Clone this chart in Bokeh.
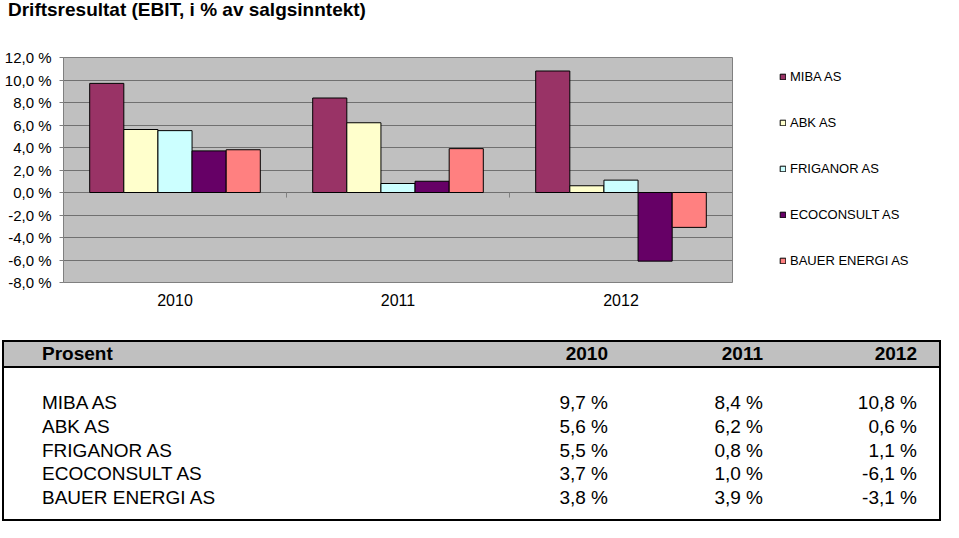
from bokeh.plotting import figure
from bokeh.models import (ColumnDataSource, FactorRange, Range1d, FixedTicker,
                          CustomJSTickFormatter, Legend, LegendItem, Div)
from bokeh.layouts import column, row
from bokeh.transform import dodge
from bokeh.embed import file_html
from bokeh.resources import INLINE

# ---------------- data ----------------
title_text = "Driftsresultat (EBIT, i % av salgsinntekt)"
years = ["2010", "2011", "2012"]
companies = ["MIBA AS", "ABK AS", "FRIGANOR AS", "ECOCONSULT AS", "BAUER ENERGI AS"]
miba = [9.7, 8.4, 10.8]
abk = [5.6, 6.2, 0.6]
friganor = [5.5, 0.8, 1.1]
ecoconsult = [3.7, 1.0, -6.1]
bauer = [3.8, 3.9, -3.1]
y_ticks = [-8, -6, -4, -2, 0, 2, 4, 6, 8, 10, 12]
table_header = "Prosent"

colors = ["#993366", "#FFFFCC", "#CCFFFF", "#660066", "#FF8080"]
FONT = "Liberation Sans"
W = 943
CHART_W = 733
CHART_H = 306

series = [miba, abk, friganor, ecoconsult, bauer]
keys = ["miba", "abk", "friganor", "ecoconsult", "bauer"]


def pct(v):
    return f"{v:.1f}".replace(".", ",") + " %"


src = ColumnDataSource(dict(year=years, **{k: s for k, s in zip(keys, series)}))

# ---------------- title (HTML) ----------------
title = Div(text=(f'<div style="position:relative;width:{W}px;height:24px;">'
                  f'<div style="position:absolute;left:8px;top:0px;line-height:20px;'
                  f"font-family:'{FONT}',Arial,sans-serif;font-size:19px;font-weight:bold;"
                  f'color:black;white-space:nowrap;">{title_text}</div></div>'),
            width=W, height=24, margin=(0, 0, 0, 0))

# ---------------- chart ----------------
p = figure(width=CHART_W, height=CHART_H, x_range=FactorRange(factors=years),
           y_range=Range1d(-8, 12), output_backend="svg", toolbar_location=None,
           min_border_left=63, min_border_right=1, min_border_top=33,
           min_border_bottom=48)
p.margin = (0, 0, 0, 0)
p.background_fill_color = "#C0C0C0"
p.border_fill_color = "white"
p.outline_line_color = "#808080"

p.yaxis.ticker = FixedTicker(ticks=y_ticks)
p.yaxis.formatter = CustomJSTickFormatter(
    code="return tick.toFixed(1).replace('.', ',') + ' %';")
p.yaxis.major_label_text_font = FONT
p.yaxis.major_label_text_font_size = "15px"
p.yaxis.major_label_text_color = "black"
p.yaxis.axis_line_color = "#808080"
p.yaxis.major_tick_line_color = "#808080"
p.yaxis.major_tick_out = 4
p.yaxis.major_tick_in = 0
p.yaxis.minor_tick_line_color = None
p.yaxis.major_label_standoff = 8

p.xaxis.axis_line_color = None
p.xaxis.major_tick_line_color = None
p.xaxis.minor_tick_line_color = None
p.xaxis.major_label_text_font = FONT
p.xaxis.major_label_text_font_size = "16px"
p.xaxis.major_label_text_color = "black"
p.xaxis.major_label_standoff = 5

p.xgrid.grid_line_color = None
p.ygrid.grid_line_color = "#707070"

bw = 0.153
for i, (k, c) in enumerate(zip(keys, colors)):
    p.vbar(x=dodge("year", (i - 2) * bw, range=p.x_range), top=k, bottom=0,
           width=bw, source=src, fill_color=c, line_color="black", line_width=1)

# small category tick marks on the zero line
p.segment(x0=dodge("year", 0.5, range=p.x_range), y0=0,
          x1=dodge("year", 0.5, range=p.x_range), y1=-0.45,
          source=src, line_color="#808080", line_width=1)

# ---------------- legend (own small figure; its bars lie outside its view) ----
lf = figure(width=W - CHART_W, height=CHART_H, x_range=FactorRange(factors=years),
            y_range=Range1d(-8, 12), output_backend="svg",
            toolbar_location=None, x_axis_location=None, y_axis_location=None,
            min_border_left=0, min_border_right=0, min_border_top=33,
            min_border_bottom=48)
lf.margin = (0, 0, 0, 0)
lf.outline_line_color = None
lf.grid.visible = False
items = []
for k, name, c in zip(keys, companies, colors):
    r = lf.vbar(x=dodge("year", 10, range=lf.x_range), top=k, bottom=0,
                width=0.1, source=src, fill_color=c, line_color="black",
                line_width=1)
    items.append(LegendItem(label=name, renderers=[r]))
legend = Legend(items=items, location=(46, 14), orientation="vertical",
                glyph_width=7, glyph_height=7, label_height=15, spacing=31,
                padding=0, margin=0, label_standoff=4,
                border_line_color=None, background_fill_alpha=0,
                label_text_font=FONT, label_text_font_size="13px",
                label_text_color="black")
lf.add_layout(legend, "center")

# ---------------- table (HTML) ----------------
name_x = 42
col_right = [W - 608, W - 763, W - 917]
header_c = 24
row_c = [73 + i * 23.75 for i in range(len(companies))]
LH = 24


def span(txt, top, left=None, right=None, bold=False):
    pos = f"left:{left}px;" if left is not None else f"right:{right}px;text-align:right;"
    fw = "bold" if bold else "normal"
    return (f'<div style="position:absolute;top:{top}px;{pos}'
            f'line-height:{LH}px;height:{LH}px;white-space:nowrap;'
            f'font-weight:{fw};">{txt}</div>')


parts = [
    f'<div style="position:relative;width:{W}px;height:192px;'
    f"font-family:'{FONT}',Arial,sans-serif;font-size:19px;color:black;\">",
    '<div style="position:absolute;left:2px;top:10px;width:939px;height:181px;'
    'border:2.5px solid black;box-sizing:border-box;"></div>',
    '<div style="position:absolute;left:2px;top:10px;width:939px;height:28px;'
    'border:2.5px solid black;box-sizing:border-box;background:#C0C0C0;"></div>',
    span(table_header, header_c - LH / 2, left=name_x, bold=True),
]
for j, yr in enumerate(years):
    parts.append(span(yr, header_c - LH / 2, right=col_right[j], bold=True))
for i, name in enumerate(companies):
    parts.append(span(name, row_c[i] - LH / 2, left=name_x))
    for j in range(len(years)):
        parts.append(span(pct(series[i][j]), row_c[i] - LH / 2, right=col_right[j]))
parts.append("</div>")

table = Div(text="".join(parts), width=W, height=192, margin=(0, 0, 0, 0))

layout = column(title, row(p, lf, spacing=0), table, spacing=0)

with open("out.html", "w") as f:
    f.write(file_html(layout, INLINE))
